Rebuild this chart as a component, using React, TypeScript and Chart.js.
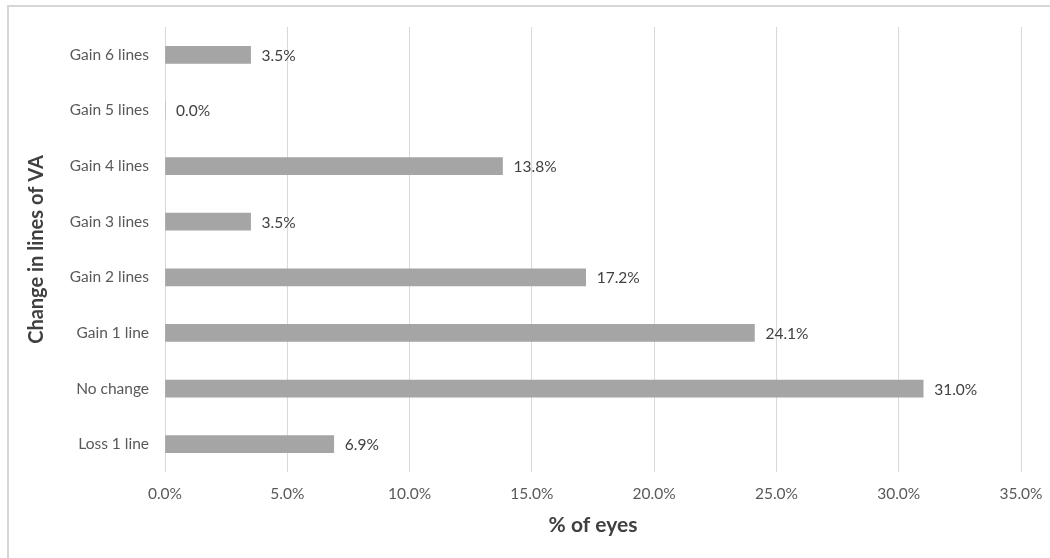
import React, { useEffect, useRef } from "react";
import { Chart, registerables } from "chart.js";

Chart.register(...registerables);

// Change in visual acuity (lines) after treatment, share of eyes
const categories: string[] = [
  "Gain 6 lines",
  "Gain 5 lines",
  "Gain 4 lines",
  "Gain 3 lines",
  "Gain 2 lines",
  "Gain 1 line",
  "No change",
  "Loss 1 line",
];
const percentOfEyes: number[] = [3.5, 0.0, 13.8, 3.5, 17.2, 24.1, 31.0, 6.9];
const xTicks: number[] = [0, 5, 10, 15, 20, 25, 30, 35];

const FONT = "Lato, 'Open Sans', 'DejaVu Sans', sans-serif";
const LABEL_SIZE = 15.5;

// Writes the value next to the end of each bar
const valueLabels = {
  id: "valueLabels",
  afterDatasetsDraw(chart: any) {
    const { ctx } = chart;
    const meta = chart.getDatasetMeta(0);
    ctx.save();
    ctx.font = `${LABEL_SIZE}px ${FONT}`;
    ctx.fillStyle = "#404040";
    ctx.textAlign = "left";
    ctx.textBaseline = "middle";
    meta.data.forEach((bar: any, i: number) => {
      const v = percentOfEyes[i];
      ctx.fillText(`${v.toFixed(1)}%`, bar.x + 11, bar.y + 1);
    });
    ctx.restore();
  },
};

export default function App() {
  const canvasRef = useRef<HTMLCanvasElement | null>(null);

  useEffect(() => {
    if (!canvasRef.current) return;
    const chart = new Chart(canvasRef.current, {
      type: "bar",
      data: {
        labels: categories,
        datasets: [
          {
            data: percentOfEyes,
            backgroundColor: "#a5a5a5",
            borderWidth: 0,
            barThickness: 17,
          },
        ],
      },
      options: {
        indexAxis: "y",
        responsive: false,
        animation: false,
        layout: { padding: { top: 27, right: 29, left: 0, bottom: 0 } },
        plugins: {
          legend: { display: false },
          tooltip: { enabled: false },
        },
        scales: {
          x: {
            min: 0,
            max: 35,
            afterBuildTicks: (scale: any) => {
              scale.ticks = xTicks.map((v) => ({ value: v }));
            },
            afterFit: (scale: any) => {
              scale.height = 86;
              scale.paddingLeft = 0;
              scale.paddingRight = 0;
            },
            grid: { color: "#d9d9d9", lineWidth: 1, drawTicks: false },
            border: { display: false },
            ticks: {
              padding: 13,
              color: "#595959",
              font: { family: FONT, size: LABEL_SIZE },
              callback: (v: any) => `${Number(v).toFixed(1)}%`,
            },
            title: {
              display: true,
              text: "% of eyes",
              color: "#404040",
              font: { family: FONT, size: 21, weight: "bold" },
              padding: { top: 0, bottom: 20 },
            },
          },
          y: {
            afterFit: (scale: any) => {
              scale.width = 165;
            },
            grid: { display: false, drawTicks: false },
            border: { display: false },
            ticks: {
              padding: 16,
              color: "#595959",
              font: { family: FONT, size: LABEL_SIZE },
            },
            title: {
              display: true,
              text: "Change in lines of VA",
              color: "#404040",
              font: { family: FONT, size: 20, weight: "bold" },
              padding: { top: 25, bottom: 0 },
            },
          },
        },
      },
      plugins: [valueLabels],
    });
    return () => chart.destroy();
  }, []);

  return (
    <div
      style={{
        position: "fixed",
        left: 0,
        top: 0,
        width: 1050,
        height: 558,
        background: "#ffffff",
        overflow: "hidden",
      }}
    >
      <div
        style={{
          position: "absolute",
          left: 7,
          top: 5,
          width: 1100,
          height: 600,
          borderLeft: "2px solid #d6d6d6",
          borderTop: "2px solid #d6d6d6",
        }}
      />
      <canvas
        ref={canvasRef}
        width={1050}
        height={558}
        style={{ position: "absolute", left: 0, top: 0 }}
      />
    </div>
  );
}
